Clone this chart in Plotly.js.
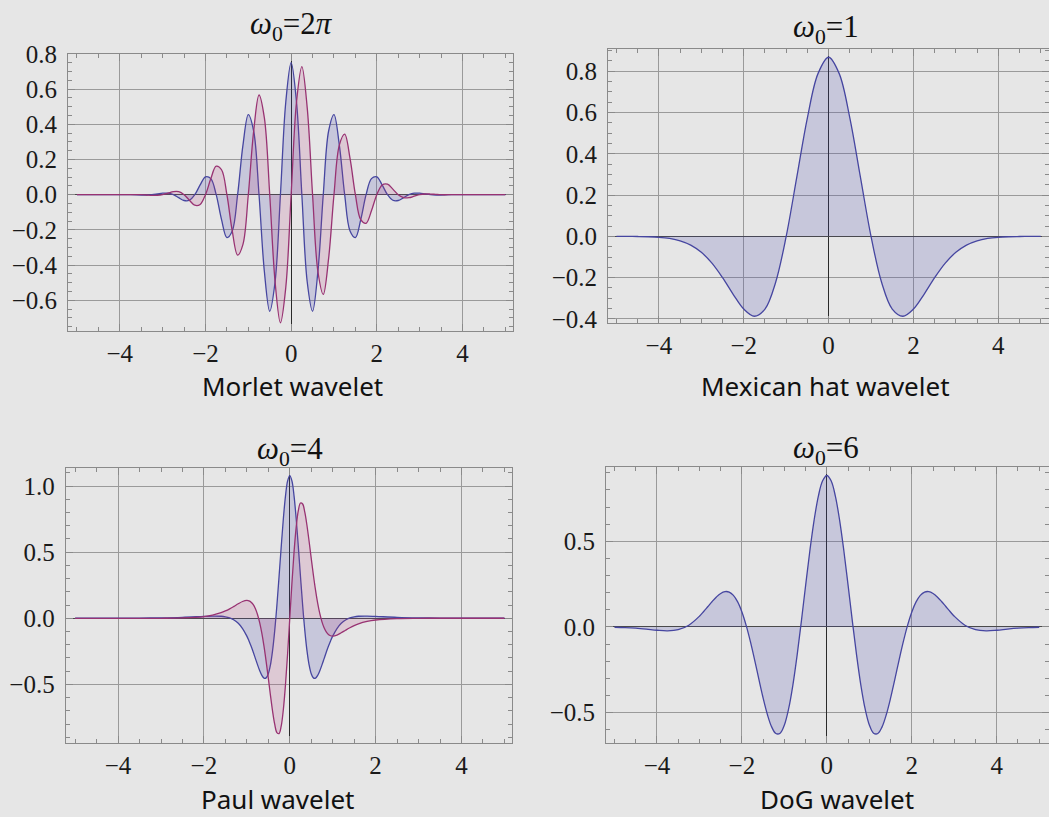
<!DOCTYPE html>
<html>
<head>
<meta charset="utf-8">
<script src="https://cdn.plot.ly/plotly-3.0.1.min.js"></script>
<style>
  html, body { margin: 0; padding: 0; background: #e6e6e6; }
  #chart { width: 1049px; height: 817px; }
</style>
</head>
<body>
<div id="chart"></div>
<script>
// ---------------- DATA ----------------
const morletT = [-5,-4.5,-4,-3.75,-3.5,-3.375,-3.25,-3.125,-3,-2.875,-2.75,-2.625,-2.5,-2.375,-2.25,-2.125,-2,-1.875,-1.75,-1.625,-1.5,-1.375,-1.25,-1.125,-1,-0.875,-0.75,-0.625,-0.5,-0.375,-0.25,-0.125,0,0.125,0.25,0.375,0.5,0.625,0.75,0.875,1,1.125,1.25,1.375,1.5,1.625,1.75,1.875,2,2.125,2.25,2.375,2.5,2.625,2.75,2.875,3,3.125,3.25,3.375,3.5,3.75,4,4.5,5];
const morletRe = [0,0,0,0,
  -0.0016,-0.0018,0,0.0040,0.0084,0.0085,0,-0.0170,-0.0330,-0.0317,0,0.0556,0.1017,0.0916,0,-0.1418,-0.2438,-0.2063,0,0.2821,0.4556,0.3622,0,-0.4368,-0.6628,-0.4950,0,0.5270,
  0.7511,
  0.5270,0,-0.4950,-0.6628,-0.4368,0,0.3622,0.4556,0.2821,0,-0.2063,-0.2438,-0.1418,0,0.0916,0.1017,0.0556,0,-0.0317,-0.0330,-0.0170,0,0.0085,0.0084,0.0040,0,-0.0018,-0.0016,
  0,0,0,0];
const morletIm = [0,0,0,0,
  0,-0.0018,-0.0038,-0.0040,0,0.0085,0.0171,0.0170,0,-0.0317,-0.0598,-0.0556,0,0.0916,0.1624,0.1418,0,-0.2063,-0.3439,-0.2821,0,0.3622,0.5670,0.4368,0,-0.4950,-0.7280,-0.5270,
  0,
  0.5270,0.7280,0.4950,0,-0.4368,-0.5670,-0.3622,0,0.2821,0.3439,0.2063,0,-0.1418,-0.1624,-0.0916,0,0.0556,0.0598,0.0317,0,-0.0170,-0.0171,-0.0085,0,0.0040,0.0038,0.0018,0,
  0,0,0,0];

const mexT = [-5,-4.75,-4.5,-4.25,-4,-3.75,-3.5,-3.25,-3,-2.75,-2.5,-2.25,-2,-1.75,-1.5,-1.25,-1,-0.75,-0.5,-0.25,0,0.25,0.5,0.75,1,1.25,1.5,1.75,2,2.25,2.5,2.75,3,3.25,3.5,3.75,4,4.25,4.5,4.75,5];
const mexY = [-0.0001,-0.0002,-0.0007,-0.0018,-0.0044,-0.0100,-0.0214,-0.0422,-0.0771,-0.1297,-0.2001,-0.2804,-0.3522,-0.3869,-0.3520,-0.2234,0,0.2865,0.5741,0.7882,
  0.8674,
  0.7882,0.5741,0.2865,0,-0.2234,-0.3520,-0.3869,-0.3522,-0.2804,-0.2001,-0.1297,-0.0771,-0.0422,-0.0214,-0.0100,-0.0044,-0.0018,-0.0007,-0.0002,-0.0001];

const paulT = [-5,-4.5,-4,-3.5,-3,-2.5,-2,-1.8,-1.6,-1.5,-1.4,-1.3,-1.2,-1.1,-1,-0.95,-0.9,-0.85,-0.8,-0.75,-0.7,-0.65,-0.6,-0.55,-0.5,-0.45,-0.4,-0.35,-0.3,-0.25,-0.2,-0.15,-0.1,-0.05,
  0,
  0.05,0.1,0.15,0.2,0.25,0.3,0.35,0.4,0.45,0.5,0.55,0.6,0.65,0.7,0.75,0.8,0.85,0.9,0.95,1,1.1,1.2,1.3,1.4,1.5,1.6,1.8,2,2.5,3,3.5,4,4.5,5];
const paulRe = [0.0003,0.0005,0.0009,0.0017,0.0034,0.0072,0.0142,0.0166,0.0154,0.0113,0.0029,-0.0124,-0.0379,-0.0773,-0.1349,-0.1711,-0.2121,-0.2572,-0.3048,-0.3525,-0.3966,-0.4320,-0.4527,-0.4508,-0.4200,-0.3518,-0.2422,-0.0912,0.0985,0.3147,0.5385,0.7506,0.9244,1.0389,
  1.0789,
  1.0389,0.9244,0.7506,0.5385,0.3147,0.0985,-0.0912,-0.2422,-0.3518,-0.4200,-0.4508,-0.4527,-0.4320,-0.3966,-0.3525,-0.3048,-0.2572,-0.2121,-0.1711,-0.1349,-0.0773,-0.0379,-0.0124,0.0029,0.0113,0.0154,0.0166,0.0142,0.0072,0.0034,0.0017,0.0009,0.0005,0.0003];
const paulIm = [-0.0002,-0.0002,-0.0003,-0.0003,0.0001,0.0025,0.0131,0.0239,0.0424,0.0555,0.0715,0.0901,0.1096,0.1269,0.1349,0.1320,0.1222,0.1030,0.0721,0.0268,-0.0350,-0.1148,-0.2128,-0.3277,-0.4528,-0.5825,-0.7039,-0.8030,-0.8642,-0.8721,-0.8165,-0.6915,-0.5031,-0.2650,
  0,
  0.2650,0.5031,0.6915,0.8165,0.8721,0.8642,0.8030,0.7039,0.5825,0.4528,0.3277,0.2128,0.1148,0.0350,-0.0268,-0.0721,-0.1030,-0.1222,-0.1320,-0.1349,-0.1269,-0.1096,-0.0901,-0.0715,-0.0555,-0.0424,-0.0239,-0.0131,-0.0025,-0.0001,0.0003,0.0003,0.0002,0.0002];

const dogT = [-5,-4.75,-4.5,-4.25,-4,-3.75,-3.5,-3.25,-3,-2.9,-2.8,-2.7,-2.6,-2.5,-2.4,-2.3,-2.2,-2.1,-2,-1.9,-1.8,-1.7,-1.6,-1.5,-1.4,-1.3,-1.2,-1.1,-1,-0.9,-0.8,-0.7,-0.6,-0.5,-0.4,-0.3,-0.2,-0.1,
  0,
  0.1,0.2,0.3,0.4,0.5,0.6,0.7,0.8,0.9,1,1.1,1.2,1.3,1.4,1.5,1.6,1.7,1.8,1.9,2,2.1,2.2,2.3,2.4,2.5,2.6,2.7,2.8,2.9,3,3.25,3.5,3.75,4,4.25,4.5,4.75,5];
const dogY = [-0.0016,-0.0036,-0.0072,-0.0127,-0.0190,-0.0225,-0.0159,0.0104,0.0629,0.0903,0.1196,0.1489,0.1753,0.1956,0.2063,0.2037,0.1845,0.1462,0.0877,0.0096,-0.0857,-0.1932,-0.3060,-0.4153,-0.5111,-0.5832,-0.6220,-0.6199,-0.5720,-0.4772,-0.3389,-0.1645,0.0343,0.2430,0.4450,0.6238,0.7640,0.8534,
  0.8841,
  0.8534,0.7640,0.6238,0.4450,0.2430,0.0343,-0.1645,-0.3389,-0.4772,-0.5720,-0.6199,-0.6220,-0.5832,-0.5111,-0.4153,-0.3060,-0.1932,-0.0857,0.0096,0.0877,0.1462,0.1845,0.2037,0.2063,0.1956,0.1753,0.1489,0.1196,0.0903,0.0629,0.0104,-0.0159,-0.0225,-0.0190,-0.0127,-0.0072,-0.0036,-0.0016];

const panelTitles = ['<i>ω</i><sub>0</sub>=2<i>π</i>', '<i>ω</i><sub>0</sub>=1', '<i>ω</i><sub>0</sub>=4', '<i>ω</i><sub>0</sub>=6'];
const axisLabels = ['Morlet wavelet', 'Mexican hat wavelet', 'Paul wavelet', 'DoG wavelet'];

// ---------------- STYLE ----------------
const W = 1049, H = 817;
const BLUE = '#4646a0', BLUEFILL = 'rgba(70,70,175,0.19)';
const MAG = '#983272', MAGFILL = 'rgba(180,60,125,0.17)';
const px = v => v / W;
const py = v => (H - v) / H;
const SERIF = 'Liberation Serif, Times New Roman, serif';

function line(x, y, c, f, xa, ya) {
  return { x: x, y: y, xaxis: xa, yaxis: ya, type: 'scatter', mode: 'lines',
    line: { color: c, width: 1.3, shape: 'spline' }, fill: 'tozeroy', fillcolor: f,
    hoverinfo: 'skip' };
}
const traces = [
  line(morletT, morletRe, BLUE, BLUEFILL, 'x', 'y'),
  line(morletT, morletIm, MAG, MAGFILL, 'x', 'y'),
  line(mexT, mexY, BLUE, BLUEFILL, 'x2', 'y2'),
  line(paulT, paulRe, BLUE, BLUEFILL, 'x3', 'y3'),
  line(paulT, paulIm, MAG, MAGFILL, 'x3', 'y3'),
  line(dogT, dogY, BLUE, BLUEFILL, 'x4', 'y4')
];

const FRAME = '#8a8a8a', GRID = '#9a9a9a';
function xax(dom, rng, anchor) {
  return { domain: dom, range: rng, anchor: anchor, dtick: 2, tick0: 0, tickformat: 'd',
    showline: true, linecolor: FRAME, linewidth: 1, mirror: 'all',
    ticks: 'inside', ticklen: 7, tickcolor: FRAME, tickwidth: 1,
    minor: { dtick: 0.5, tick0: 0, ticks: 'inside', ticklen: 4, tickcolor: FRAME, showgrid: false },
    showgrid: true, gridcolor: GRID, gridwidth: 1,
    zeroline: true, zerolinecolor: '#2a2a2a', zerolinewidth: 1,
    ticklabelstandoff: 0,
    tickfont: { family: SERIF, size: 25, color: '#1a1a1a' },
    fixedrange: true };
}
function yax(dom, rng, anchor, dt, mdt) {
  return { domain: dom, range: rng, anchor: anchor, dtick: dt, tick0: 0, tickformat: '.1f',
    showline: true, linecolor: FRAME, linewidth: 1, mirror: 'ticks',
    ticks: 'inside', ticklen: 7, tickcolor: FRAME, tickwidth: 1,
    minor: { dtick: mdt, tick0: 0, ticks: 'inside', ticklen: 4, tickcolor: FRAME, showgrid: false },
    showgrid: true, gridcolor: GRID, gridwidth: 1,
    zeroline: true, zerolinecolor: '#4a4a4a', zerolinewidth: 1,
    ticklabelstandoff: 5,
    tickfont: { family: SERIF, size: 25, color: '#1a1a1a' },
    fixedrange: true };
}

const layout = {
  width: W, height: H,
  margin: { l: 0, r: 0, t: 0, b: 0 },
  paper_bgcolor: '#e6e6e6', plot_bgcolor: '#e6e6e6',
  showlegend: false,
  xaxis:  xax([px(68), px(513)], [-5.21, 5.18], 'y'),
  yaxis:  yax([py(331), py(54)], [-0.775, 0.80], 'x', 0.2, 0.05),
  xaxis2: xax([px(608), 1], [-5.2, 5.195], 'y2'),
  yaxis2: yax([py(323.3), py(49.3)], [-0.421, 0.906], 'x2', 0.2, 0.05),
  xaxis3: xax([px(65.7), px(511.7)], [-5.22, 5.17], 'y3'),
  yaxis3: yax([py(742.7), py(467.7)], [-0.941, 1.139], 'x3', 0.5, 0.1),
  xaxis4: xax([px(606), 1], [-5.2, 5.23], 'y4'),
  yaxis4: yax([py(743.3), py(467.3)], [-0.679, 0.932], 'x4', 0.5, 0.1),
  annotations: []
};

const titlePos = [[291.5, 26], [826, 29], [289.5, 451], [825.5, 450]];
const labelPos = [[292, 386], [825, 386], [277.5, 799], [837, 799]];
for (let i = 0; i < 4; i++) {
  layout.annotations.push({ text: panelTitles[i], xref: 'paper', yref: 'paper',
    x: px(titlePos[i][0]), y: py(titlePos[i][1]), xanchor: 'center', yanchor: 'middle',
    showarrow: false, font: { family: SERIF, size: 31, color: '#111' } });
  layout.annotations.push({ text: axisLabels[i], xref: 'paper', yref: 'paper',
    x: px(labelPos[i][0]), y: py(labelPos[i][1]), xanchor: 'center', yanchor: 'middle',
    showarrow: false, font: { family: 'Noto Sans, Open Sans, sans-serif', size: 26, color: '#111' } });
}

Plotly.newPlot('chart', traces, layout, { staticPlot: true, displayModeBar: false });
</script>
</body>
</html>
